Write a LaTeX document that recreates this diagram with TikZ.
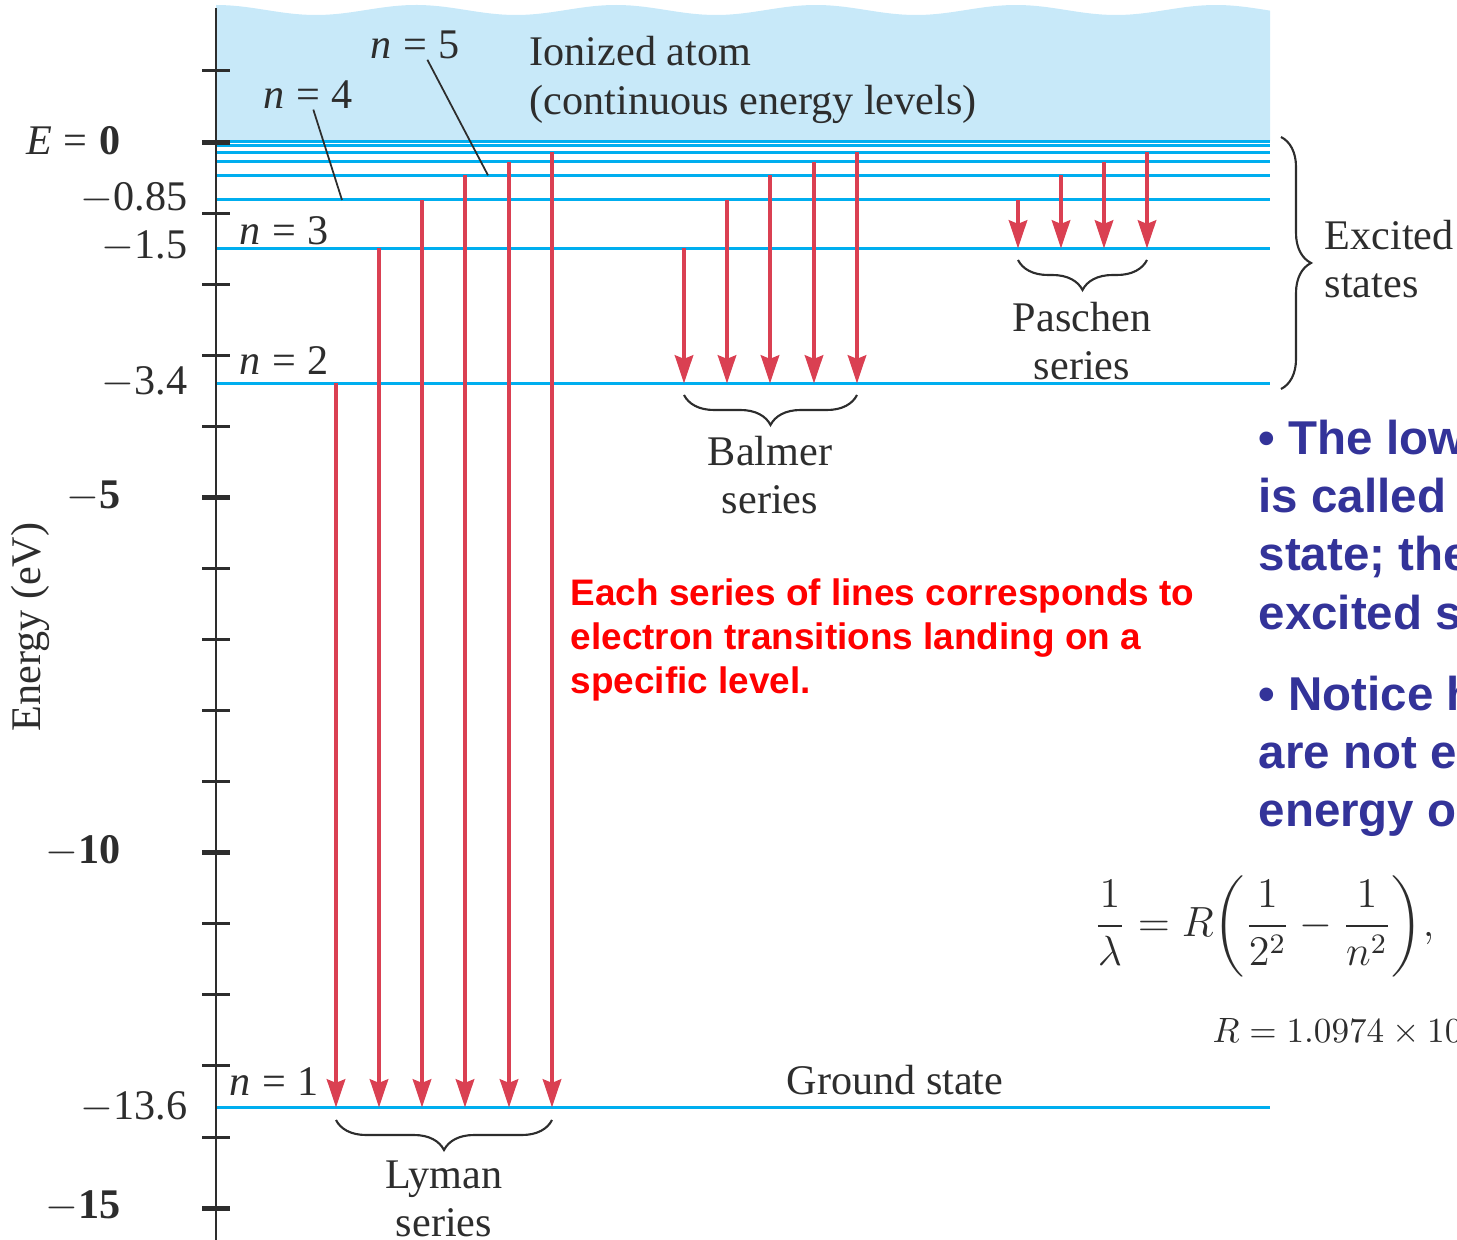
\documentclass[tikz,border=0pt]{standalone}
\usepackage{amsmath}
\usepackage{fontspec}
\setmainfont{Liberation Serif}
\setsansfont{Liberation Sans}
\usetikzlibrary{arrows.meta,decorations.pathreplacing}
\definecolor{levelblue}{RGB}{0,174,239}
\definecolor{ionblue}{RGB}{200,233,249}
\definecolor{transred}{RGB}{218,64,82}
\definecolor{notenavy}{RGB}{51,51,153}
\definecolor{inkgray}{RGB}{45,45,45}

\begin{document}
\begin{tikzpicture}[x=0.01cm,y=-0.01cm,
  lvl/.style={levelblue,line width=0.85pt},
  trans/.style={transred,line width=1.15pt,-{Stealth[length=8pt,width=5.2pt,inset=1pt]}},
  tick/.style={inkgray,line width=0.85pt},
  majortick/.style={inkgray,line width=1.4pt},
  lab/.style={inkgray,font=\fontsize{12}{13.7}\selectfont,inner sep=0pt,align=center},
  brc/.style={inkgray,line width=0.6pt,decorate,decoration={brace,amplitude=0.3cm}},
  note/.style={notenavy,font=\sffamily\bfseries\fontsize{13.5}{16.5}\selectfont,align=left,anchor=west,inner sep=0pt}]
\useasboundingbox (0,0) rectangle (1457,1240);
\clip (0,0) rectangle (1457,1240);
\fill[ionblue] plot[domain=216:1270,samples=90,smooth] (\x,{10-5*cos((\x-216)*1.8)}) -- (1270,141) -- (216,141) -- cycle;
\foreach \n/\y in {1/1107.5,2/383.5,3/248.5,4/200,5/175.3,6/161.8,7/152.5,8/146,9/142}
  \coordinate (n\n) at (216,\y);
\foreach \n in {1,...,9}
  \draw[lvl] (n\n) -- (1270,0 |- n\n);
\draw[tick] (216,8) -- (216,1240);
\foreach \k in {0,2,3,4,5,7,8,9,10,12,13,14,15}
  \draw[tick] (202,{71+71.07*\k}) -- (230,{71+71.07*\k});
\foreach \k in {1,6,11,16}
  \draw[majortick] (202,{71+71.07*\k}) -- (230,{71+71.07*\k});
\foreach \x/\a in {336/2,379/3,422/4,465/5,509/6,552/7}
  \draw[trans] (\x,0 |- n\a) -- (\x,0 |- n1);
\foreach \x/\a in {684/3,727/4,770/5,814/6,857/7}
  \draw[trans] (\x,0 |- n\a) -- (\x,0 |- n2);
\foreach \x/\a in {1018/4,1061/5,1104/6,1147/7}
  \draw[trans] (\x,0 |- n\a) -- (\x,0 |- n3);
\node[lab,anchor=east] (ezero) at (121,141) {\textit{E}\;=\;\textbf{0}};
\node[lab,anchor=east] (e085) at (188,198) {$-$0.85};
\node[lab,anchor=east] (e15) at (188,246) {$-$1.5};
\node[lab,anchor=east] (e34) at (188,382) {$-$3.4};
\node[lab,anchor=east] (e5) at (121,496) {\textbf{$-$5}};
\node[lab,anchor=east] (e10) at (121,851) {\textbf{$-$10}};
\node[lab,anchor=east] (e136) at (188,1107) {$-$13.6};
\node[lab,anchor=east] (e15b) at (121,1206) {\textbf{$-$15}};
\node[lab,rotate=90] (axislab) at (30,627) {Energy (eV)};
\node[lab] (lbl1) at (274,1082) {\textit{n}\;=\;1};
\node[lab] (lbl2) at (284,361) {\textit{n}\;=\;2};
\node[lab] (lbl3) at (284,231) {\textit{n}\;=\;3};
\node[lab] (lbl4) at (308,95) {\textit{n}\;=\;4};
\node[lab] (lbl5) at (415,45) {\textit{n}\;=\;5};
\draw[inkgray,line width=0.5pt] (lbl4.-70) -- (342,0 |- n4);
\draw[inkgray,line width=0.5pt] (lbl5.-50) -- (488,0 |- n5);
\node[lab,anchor=west,align=left] (ionized) at (529,80) {Ionized atom\\[0pt](continuous energy levels)};
\node[lab] (ground) at (895,1080) {Ground state};
\draw[brc] (552,1120) -- (336,1120);
\draw[brc] (857,395) -- (684,395);
\draw[brc] (1147,260) -- (1018,260);
\draw[brc] (1281,137) -- (1281,389);
\node[lab] (lyman) at (444,1199) {Lyman\\series};
\node[lab] (balmer) at (770,475) {Balmer\\series};
\node[lab] (paschen) at (1082,341) {Paschen\\series};
\node[lab,anchor=west,align=left] (excited) at (1324,259) {Excited\\states};
\node[red,font=\sffamily\bfseries\fontsize{10.5}{12.5}\selectfont,align=left,anchor=west,inner sep=0pt] (seriesnote) at (570,640) {Each series of lines corresponds to\\electron transitions landing on a\\specific level.};
\node[note] (groundnote) at (1258,525) {• The low\\is called\\state; the\\excited s};
\node[note] (spacingnote) at (1258,756) {• Notice h\\are not e\\energy o};
\node[lab,font=\fontsize{11.5}{13}\selectfont] (rydberg) at (1264,926) {$\dfrac{1}{\lambda} = R\!\left(\dfrac{1}{2^2} - \dfrac{1}{n^2}\right)\!,$};
\node[lab,anchor=west,font=\fontsize{10.2}{11}\selectfont] (rconst) at (1212,1032) {$R = 1.0974 \times 10$};
\end{tikzpicture}
\end{document}
